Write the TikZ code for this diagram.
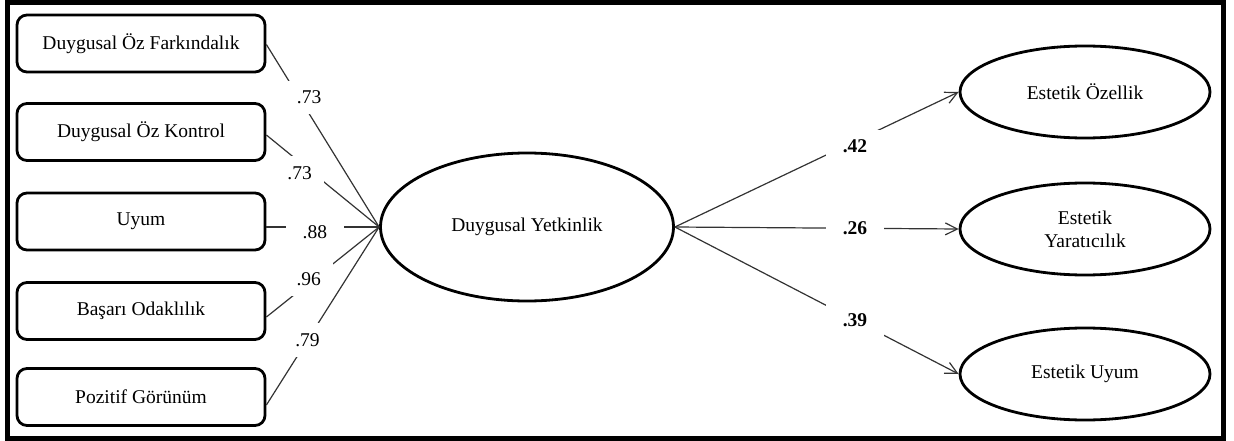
\documentclass[tikz,border=0pt]{standalone}
\usepackage{fontspec}
\setmainfont{Liberation Serif}
\usetikzlibrary{shapes.geometric,arrows.meta}
\begin{document}
\begin{tikzpicture}[x=1pt,y=-1pt,
  box/.style={draw, line width=2.8pt, rounded corners=10pt, minimum width=248pt,
    minimum height=57pt, inner sep=0pt, font=\fontsize{19.5}{23}\selectfont},
  lat/.style={draw, ellipse, line width=2.8pt, inner sep=0pt, align=center,
    font=\fontsize{19.5}{23}\selectfont},
  conn/.style={line width=1.2pt, draw=black!80},
  arr/.style={conn, -{Straight Barb[length=12pt,width=12pt,line width=1.2pt]}},
  lbl/.style={fill=white, inner xsep=12pt, inner ysep=10pt, font=\fontsize{19.5}{23}\selectfont},
  blbl/.style={lbl, inner xsep=17pt, font=\fontsize{19.5}{23}\selectfont\bfseries}
]
\useasboundingbox (0,0) rectangle (1234,441);
\draw[line width=5.5pt] (7.5,2.75) rectangle (1223.5,438.5);

\node[box] (b1) at (141,43.5) {Duygusal Öz Farkındalık};
\node[box] (b2) at (141,132) {Duygusal Öz Kontrol};
\node[box] (b3) at (141,221.5) {Uyum};
\node[box] (b4) at (141,311) {Başarı Odaklılık};
\node[box] (b5) at (141,397) {Pozitif Görünüm};

\node[lat, minimum width=293pt, minimum height=148pt] (dy) at (527,227) {Duygusal Yetkinlik};
\node[lat, minimum width=250pt, minimum height=92pt] (e1) at (1085,92) {Estetik Özellik};
\node[lat, minimum width=250pt, minimum height=92pt] (e2) at (1085,229) {Estetik\\Yaratıcılık};
\node[lat, minimum width=250pt, minimum height=92pt] (e3) at (1085,374) {Estetik Uyum};

\draw[conn] ([yshift=-1pt]b1.east) -- node[lbl, pos=.29, xshift=10pt] {.73} (dy.west);
\draw[conn] ([yshift=-3pt]b2.east) -- node[lbl, pos=.41, xshift=-13pt] {.73} (dy.west);
\draw[conn] ([yshift=-5.5pt]b3.east) -- node[lbl, pos=.43, yshift=-5pt, inner xsep=17pt] {.88} (dy.west);
\draw[conn] ([yshift=-6pt]b4.east) -- node[lbl, pos=.42, xshift=-5pt] {.96} (dy.west);
\draw[conn] ([yshift=-8pt]b5.east) -- node[lbl, pos=.365] {.79} (dy.west);

\draw[arr] (dy.east) -- node[blbl, pos=.635, yshift=-5pt] {.42} (e1.west);
\draw[arr] (dy.east) -- node[blbl, pos=.635] {.26} (e2.west);
\draw[arr] (dy.east) -- node[blbl, pos=.635] {.39} (e3.west);
\end{tikzpicture}
\end{document}
